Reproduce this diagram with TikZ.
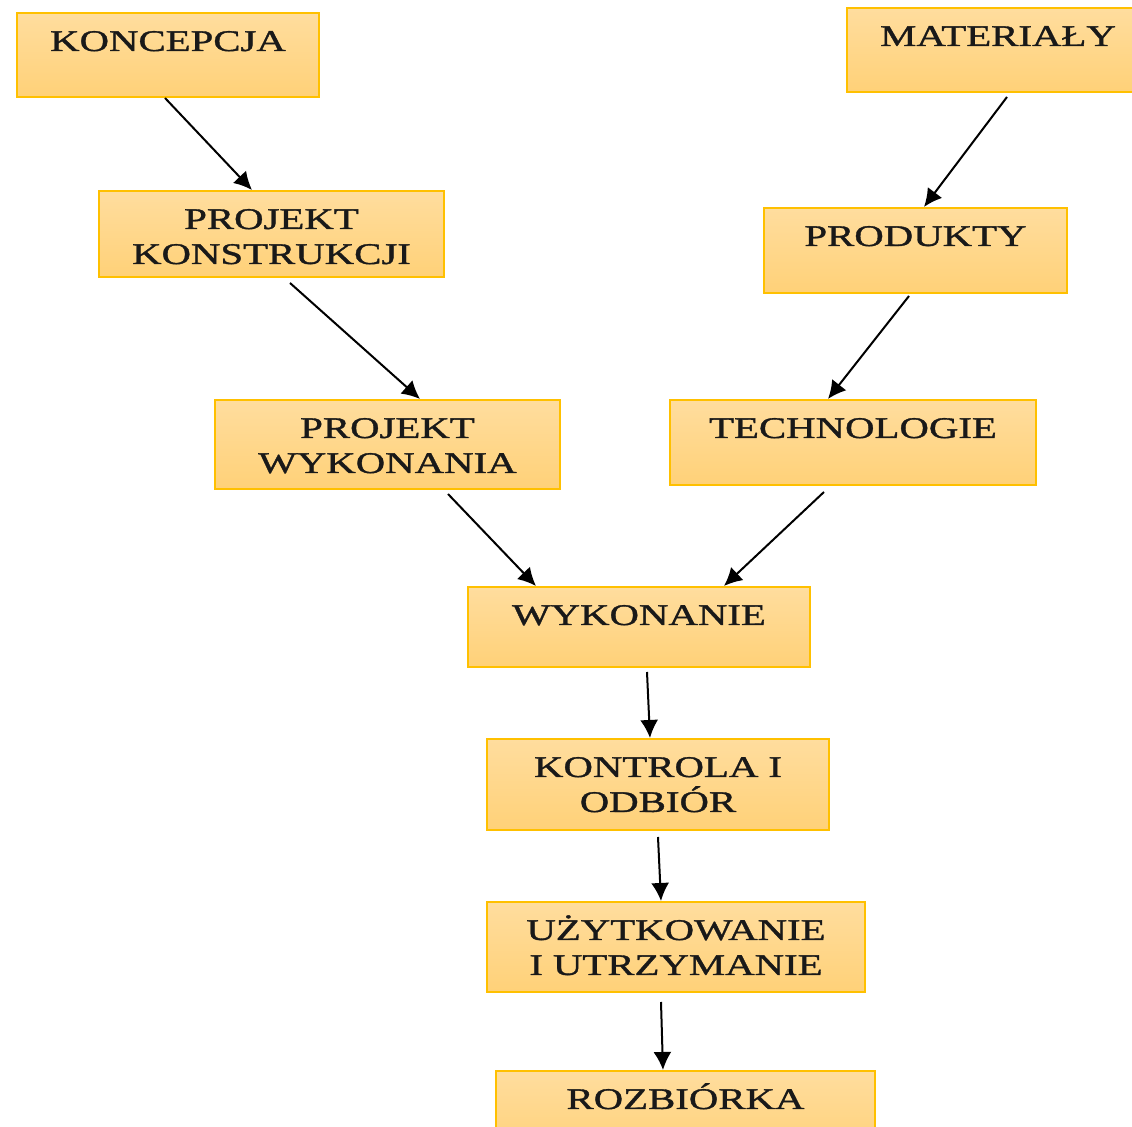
\documentclass[tikz,border=0pt]{standalone}
\usepackage{fontspec}
\setmainfont{Liberation Serif}[FakeStretch=1.36, FakeBold=1.2]
\usepackage{xcolor}
\definecolor{boxtop}{RGB}{255,221,158}
\definecolor{boxbottom}{RGB}{255,209,120}
\definecolor{boxline}{RGB}{255,192,0}
\usetikzlibrary{arrows.meta, positioning}
\tikzstyle{stage}=[rectangle, anchor=north, draw=boxline, line width=1pt, top color=boxtop, bottom color=boxbottom, align=center, inner xsep=0pt, inner ysep=9pt, text height=10pt, text=black!90, font=\fontsize{15pt}{17.5pt}\selectfont]
\tikzstyle{arrow}=[line width=1pt, ->, >={Latex[length=9pt,width=9pt]}]

\begin{document}
\begin{tikzpicture}[x=0.5pt, y=-0.5pt]
		\useasboundingbox (0,0) rectangle (1132,1127);
		\node(n1-1)[stage, text width=151pt, text depth=14pt] at (168,12) {KONCEPCJA};
		\node(n1-2)[stage, text width=172.5pt, text depth=15pt] at (271.5,190) {PROJEKT\\KONSTRUKCJI};
		\node(n1-3)[stage, text width=172.5pt, text depth=16.5pt] at (387.5,399) {PROJEKT\\WYKONANIA};
		\node(n2-1)[stage, text width=151pt, text depth=14pt] at (998,7) {MATERIAŁY};
		\node(n2-2)[stage, text width=151.5pt, text depth=14.5pt] at (915.5,207) {PRODUKTY};
		\node(n2-3)[stage, text width=183pt, text depth=14.5pt] at (853,399) {TECHNOLOGIE};
		\node(n3)[stage, text width=171pt, text depth=12pt] at (639,586) {WYKONANIE};
		\node(n4)[stage, text width=171pt, text depth=17.5pt] at (658,738) {KONTROLA I\\ODBIÓR};
		\node(n5)[stage, text width=189pt, text depth=17pt] at (676,901) {UŻYTKOWANIE\\I UTRZYMANIE};
		\node(n6)[stage, text width=189.5pt, text depth=14pt] at (685.5,1070) {ROZBIÓRKA};
		
		\draw[arrow]([xshift=-1.5pt]n1-1.south)--([xshift=-9.75pt]n1-2.north);
		\draw[arrow]([xshift=9.25pt,yshift=-2.5pt]n1-2.south)--([xshift=16.25pt]n1-3.north);
		\draw[arrow]([xshift=4.5pt,yshift=-2pt]n2-1.south)--([xshift=4.25pt]n2-2.north);
		\draw[arrow]([xshift=-3.25pt,yshift=-1pt]n2-2.south)--([xshift=-12.5pt]n2-3.north);
		\draw[arrow]([xshift=30.25pt,yshift=-2pt]n1-3.south)--([xshift=-51.5pt]n3.north);
		\draw[arrow]([xshift=-14.5pt,yshift=-3pt]n2-3.south)--([xshift=42.5pt]n3.north);
		\draw[arrow]([xshift=4pt,yshift=-2pt]n3.south)--([xshift=-4pt]n4.north);
		\draw[arrow]([yshift=-3pt]n4.south)--([xshift=-7.5pt]n5.north);
		\draw[arrow]([xshift=-7.5pt,yshift=-4.5pt]n5.south)--([xshift=-11.25pt]n6.north);
\end{tikzpicture}
\end{document}
